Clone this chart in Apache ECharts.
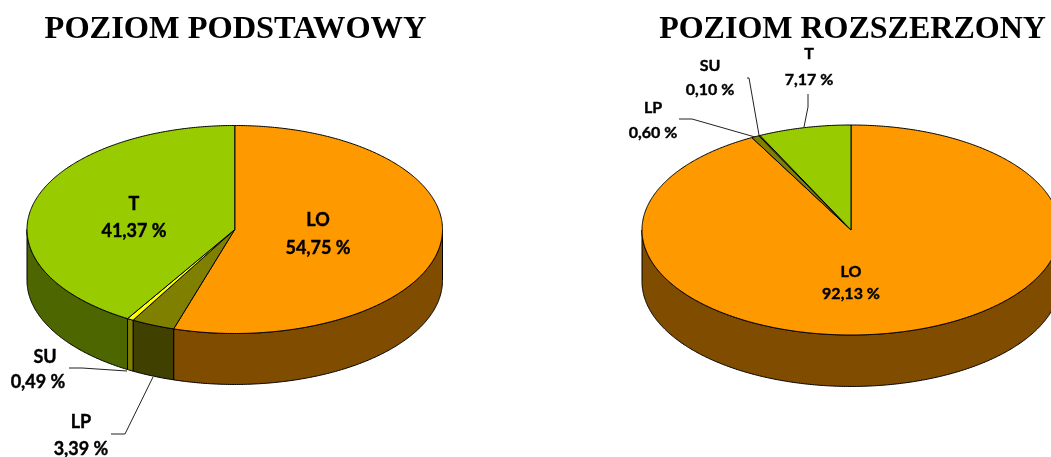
<!DOCTYPE html>
<html>
<head>
<meta charset="utf-8">
<style>
  html, body { margin: 0; padding: 0; background: #fff; }
  #main { width: 1051px; height: 457px; overflow: hidden; }
</style>
<script src="https://cdn.jsdelivr.net/npm/echarts@6/dist/echarts.min.js"></script>
</head>
<body>
<div id="main"></div>
<script>
// data (percent, clockwise from 12 o'clock)
const categories = ['LO', 'LP', 'SU', 'T'];
const basicValues = [54.75, 3.39, 0.49, 41.37];
const extendedValues = [92.13, 0.60, 0.10, 7.17];
const basicLabels = ['54,75 %', '3,39 %', '0,49 %', '41,37 %'];
const extendedLabels = ['92,13 %', '0,60 %', '0,10 %', '7,17 %'];
const titles = ['POZIOM PODSTAWOWY', 'POZIOM ROZSZERZONY'];

const topColors = ['#ff9900', '#808000', '#ffff00', '#99cc00'];
const sideColors = ['#804d00', '#404000', '#808000', '#4d6600'];

const DEPTH = 0.49; // thickness of the disc, in units of the vertical radius
const Y_MIN = -1.5;

function toRows(values) {
  let sum = 0;
  return values.map((v, i) => {
    const row = [sum, sum + v, i];
    sum += v;
    return row;
  });
}

function arc(api, from, to, y0) {
  const pts = [];
  const step = 0.5;
  for (let a = from; a < to; a += step) {
    pts.push(api.coord([Math.sin(a * Math.PI / 180), y0 + Math.cos(a * Math.PI / 180)]));
  }
  pts.push(api.coord([Math.sin(to * Math.PI / 180), y0 + Math.cos(to * Math.PI / 180)]));
  return pts;
}

function renderTop(params, api) {
  const from = api.value(0) * 3.6;
  const to = api.value(1) * 3.6;
  const pts = [api.coord([0, 0])].concat(arc(api, from, to, 0));
  return {
    type: 'polygon',
    shape: { points: pts },
    style: { fill: topColors[api.value(2)], stroke: '#000', lineWidth: 1 }
  };
}

function renderSide(params, api) {
  // only the front half of the wall is visible
  const from = Math.max(api.value(0) * 3.6, 90);
  const to = Math.min(api.value(1) * 3.6, 270);
  if (from >= to) return null;
  const upper = arc(api, from, to, 0);
  const lower = arc(api, from, to, -DEPTH).reverse();
  return {
    type: 'polygon',
    shape: { points: upper.concat(lower) },
    style: { fill: sideColors[api.value(2)], stroke: '#000', lineWidth: 1 }
  };
}

function pieSeries(values, axis) {
  const rows = toRows(values);
  return [renderSide, renderTop].map((fn, i) => ({
    type: 'custom',
    xAxisIndex: axis,
    yAxisIndex: axis,
    clip: false,
    silent: true,
    z: 2 + i,
    renderItem: fn,
    encode: { x: 0, y: 1 },
    data: rows
  }));
}

function hiddenAxis(min, max, gridIndex) {
  return { type: 'value', show: false, min: min, max: max, gridIndex: gridIndex };
}

function label(x, y, text, size) {
  return {
    type: 'text',
    z: 10,
    x: x,
    y: y,
    style: {
      text: text,
      fill: '#000',
      stroke: '#000',
      lineWidth: 0.4,
      font: 'bold ' + size + 'px Lato',
      align: 'center',
      verticalAlign: 'middle'
    }
  };
}

function leader(points) {
  return {
    type: 'polyline',
    z: 9,
    shape: { points: points },
    style: { stroke: '#222', lineWidth: 1, fill: null }
  };
}

const chart = echarts.init(document.getElementById('main'), null, { renderer: 'canvas' });

chart.setOption({
  animation: false,
  backgroundColor: '#fff',
  title: [
    { text: titles[0], left: 230.5, top: 9, textAlign: 'center',
      textStyle: { fontFamily: 'Liberation Serif', fontWeight: 'bold', fontSize: 32.4, color: '#000' } },
    { text: titles[1], left: 847.5, top: 9, textAlign: 'center',
      textStyle: { fontFamily: 'Liberation Serif', fontWeight: 'bold', fontSize: 32, color: '#000' } }
  ],
  grid: [
    { left: 27, top: 125.5, width: 415.5, height: 260, outerBoundsMode: 'none' },
    // this pie runs past the right edge of the picture
    { left: 642, top: 125, width: 418, height: 262.5, outerBoundsMode: 'none' }
  ],
  xAxis: [hiddenAxis(-1, 1, 0), hiddenAxis(-1, 1, 1)],
  yAxis: [hiddenAxis(Y_MIN, 1, 0), hiddenAxis(Y_MIN, 1, 1)],
  series: pieSeries(basicValues, 0).concat(pieSeries(extendedValues, 1)),
  graphic: [
    label(318, 220, categories[0], 18),
    label(318, 248, basicLabels[0], 18),
    label(134, 204, categories[3], 18),
    label(134, 231, basicLabels[3], 18),
    label(45, 357, categories[2], 18),
    label(38, 382, basicLabels[2], 18),
    label(81, 422, categories[1], 18),
    label(81, 449, basicLabels[1], 18),
    leader([[69, 368], [82, 368], [127, 371]]),
    leader([[111, 434], [125, 434], [153, 377]]),

    label(851, 272, categories[0], 16),
    label(851, 294, extendedLabels[0], 16),
    label(809, 54, categories[3], 16),
    label(809, 80, extendedLabels[3], 16),
    label(710, 66, categories[2], 16),
    label(710, 90, extendedLabels[2], 16),
    label(653, 108, categories[1], 16),
    label(653, 133, extendedLabels[1], 16),
    leader([[747, 78], [749, 78], [759, 135]]),
    leader([[679, 119], [692, 119], [755, 137]]),
    leader([[808, 94], [808, 107], [804, 127]])
  ]
});
</script>
</body>
</html>
